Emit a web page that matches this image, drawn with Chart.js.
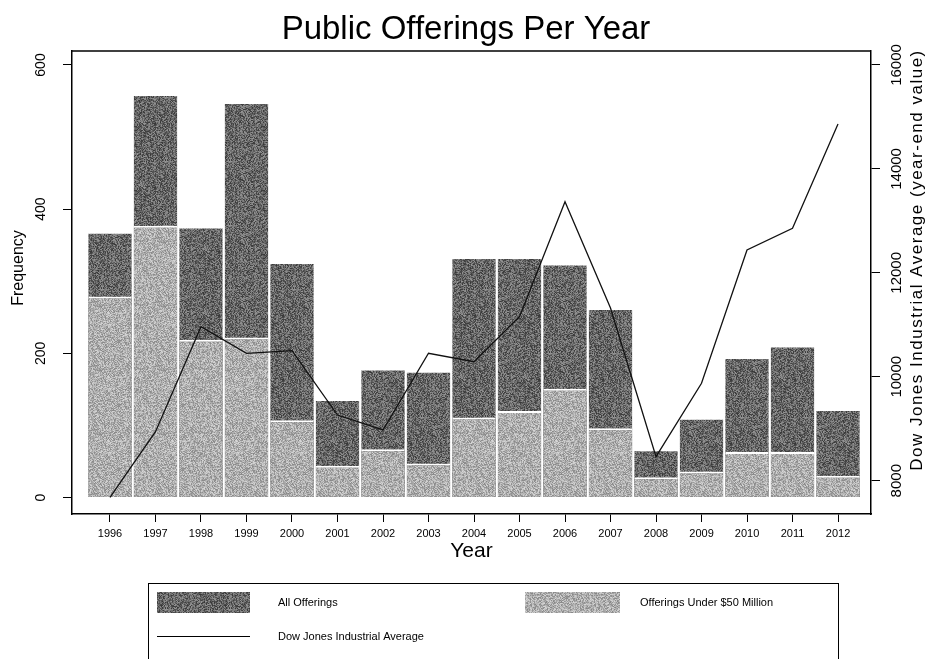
<!DOCTYPE html>
<html>
<head>
<meta charset="utf-8">
<script src="https://cdn.jsdelivr.net/npm/chart.js@4.4.1/dist/chart.umd.min.js"></script>
<style>
    html, body { margin: 0; padding: 0; background: #fff; }
    #wrap { width: 931px; height: 659px; }
</style>
</head>
<body>
<div id="wrap"><canvas id="offerings-chart"></canvas></div>
<script>
const years = [1996, 1997, 1998, 1999, 2000, 2001, 2002, 2003, 2004, 2005, 2006, 2007, 2008, 2009, 2010, 2011, 2012];
const allOfferings = [366, 557, 373, 546, 324, 134, 176, 173, 331, 331, 322, 260, 64, 108, 192, 208, 120];
const under50m = [279, 377, 219, 222, 107, 44, 67, 47, 111, 120, 151, 96, 28, 36, 63, 63, 30];
const dowJones = [7681, 8943, 10964, 10452, 10502, 9264, 8976, 10452, 10290, 11156, 13369, 11324, 8462, 9874, 12440, 12857, 14865];
const freqTicks = [0, 200, 400, 600];
const dowTicks = [8000, 10000, 12000, 14000, 16000];

const FONT = "'Liberation Sans', Arial, sans-serif";
const ctx = document.getElementById("offerings-chart");

// grainy grey fill like the printed original
function grain(base, spread, seed) {
    const c = document.createElement("canvas");
    c.width = 64;
    c.height = 64;
    const g = c.getContext("2d");
    const img = g.createImageData(64, 64);
    for (let i = 0; i < 64 * 64; i++) {
        const h = Math.sin(i * 12.9898 + seed * 78.233) * 43758.5453;
        const n = h - Math.floor(h);
        const v = Math.max(0, Math.min(255, Math.round(base + (n - 0.5) * spread)));
        img.data[i * 4] = v;
        img.data[i * 4 + 1] = v;
        img.data[i * 4 + 2] = v;
        img.data[i * 4 + 3] = 255;
    }
    g.putImageData(img, 0, 0);
    return g.createPattern(c, "repeat");
}
const darkFill = grain(102, 95, 1);
const lightFill = grain(174, 80, 2);

const pts = (vals) => years.map((y, i) => ({ x: y, y: vals[i] }));

const frame = {
    id: "frame",
    afterDraw(chart) {
        const c = chart.ctx;
        const a = chart.chartArea;
        const yL = chart.scales.y;
        const yR = chart.scales.y2;
        c.save();
        c.fillStyle = "#000";
        c.strokeStyle = "#000";

        c.lineWidth = 1.5;
        c.beginPath();
        c.moveTo(a.left, a.top);
        c.lineTo(a.right, a.top);
        c.stroke();

        c.textAlign = "center";
        c.textBaseline = "middle";
        c.font = "33px " + FONT;
        c.fillText("Public Offerings Per Year", 466, 30);

        c.font = "21px " + FONT;
        c.fillText("Year", (a.left + a.right) / 2, 551);

        const vtext = (txt, x, y, size, spacing) => {
            c.save();
            c.translate(x, y);
            c.rotate(-Math.PI / 2);
            c.font = size + "px " + FONT;
            c.letterSpacing = spacing || "0px";
            c.fillText(txt, 0, 0);
            c.restore();
        };
        freqTicks.forEach((v) => vtext(String(v), 41, yL.getPixelForValue(v), 14));
        dowTicks.forEach((v) => vtext(String(v), 897, yR.getPixelForValue(v), 15));
        vtext("Frequency", 19, 268, 16);
        vtext("Dow Jones Industrial Average (year-end value)", 917, 260, 17, "1.5px");

        // legend
        const ds = chart.data.datasets;
        c.lineWidth = 1;
        c.strokeRect(148.5, 583.5, 690, 100);
        c.font = "11px " + FONT;
        c.textAlign = "left";
        c.fillStyle = ds[0].backgroundColor;
        c.fillRect(157, 592, 93, 21);
        c.fillStyle = ds[1].backgroundColor;
        c.fillRect(525, 592, 95, 21);
        c.fillStyle = "#000";
        c.fillText(ds[0].label, 278, 603);
        c.fillText(ds[1].label, 640, 603);
        c.beginPath();
        c.moveTo(157, 636.5);
        c.lineTo(250, 636.5);
        c.stroke();
        c.fillText(ds[2].label, 278, 637);
        c.restore();
    },
};

const config = {
    data: {
        datasets: [
            {
                type: "bar",
                label: "All Offerings",
                data: pts(allOfferings),
                backgroundColor: darkFill,
                borderWidth: 0,
                grouped: false,
                barPercentage: 0.95,
                categoryPercentage: 1,
                order: 2,
            },
            {
                type: "bar",
                label: "Offerings Under $50 Million",
                data: pts(under50m),
                backgroundColor: lightFill,
                borderColor: "#fff",
                borderWidth: { top: 2, left: 0, right: 0, bottom: 0 },
                grouped: false,
                barPercentage: 0.95,
                categoryPercentage: 1,
                order: 1,
            },
            {
                type: "line",
                label: "Dow Jones Industrial Average",
                data: pts(dowJones),
                yAxisID: "y2",
                borderColor: "#111",
                borderWidth: 1.3,
                pointRadius: 0,
                tension: 0,
                order: 0,
            },
        ],
    },
    options: {
        responsive: true,
        maintainAspectRatio: false,
        animation: false,
        layout: { padding: { top: 51, bottom: 105, left: 0, right: 0 } },
        plugins: { legend: { display: false }, tooltip: { enabled: false } },
        scales: {
            x: {
                type: "linear",
                min: 1995.165,
                max: 2012.725,
                offset: false,
                afterBuildTicks: (s) => { s.ticks = years.map((v) => ({ value: v })); },
                afterFit: (s) => { s.height = 40; },
                grid: { offset: false, drawOnChartArea: false, tickLength: 8, color: "#000" },
                border: { display: true, color: "#000", width: 1.5 },
                ticks: {
                    color: "#000",
                    font: { family: FONT, size: 11 },
                    padding: 5,
                    maxRotation: 0,
                    autoSkip: false,
                    callback: (v) => String(v),
                },
            },
            y: {
                position: "left",
                min: -22.9,
                max: 619.4,
                afterBuildTicks: (s) => { s.ticks = freqTicks.map((v) => ({ value: v })); },
                afterFit: (s) => { s.width = 72; },
                grid: { drawOnChartArea: false, tickLength: 9, color: "#000" },
                border: { display: true, color: "#000", width: 1.5 },
                ticks: { display: false },
            },
            y2: {
                position: "right",
                min: 7359,
                max: 16269,
                afterBuildTicks: (s) => { s.ticks = dowTicks.map((v) => ({ value: v })); },
                afterFit: (s) => { s.width = 60; },
                grid: { drawOnChartArea: false, tickLength: 9, color: "#000" },
                border: { display: true, color: "#000", width: 1.5 },
                ticks: { display: false },
            },
        },
    },
    plugins: [frame],
};

new Chart(ctx, config);
</script>
</body>
</html>
